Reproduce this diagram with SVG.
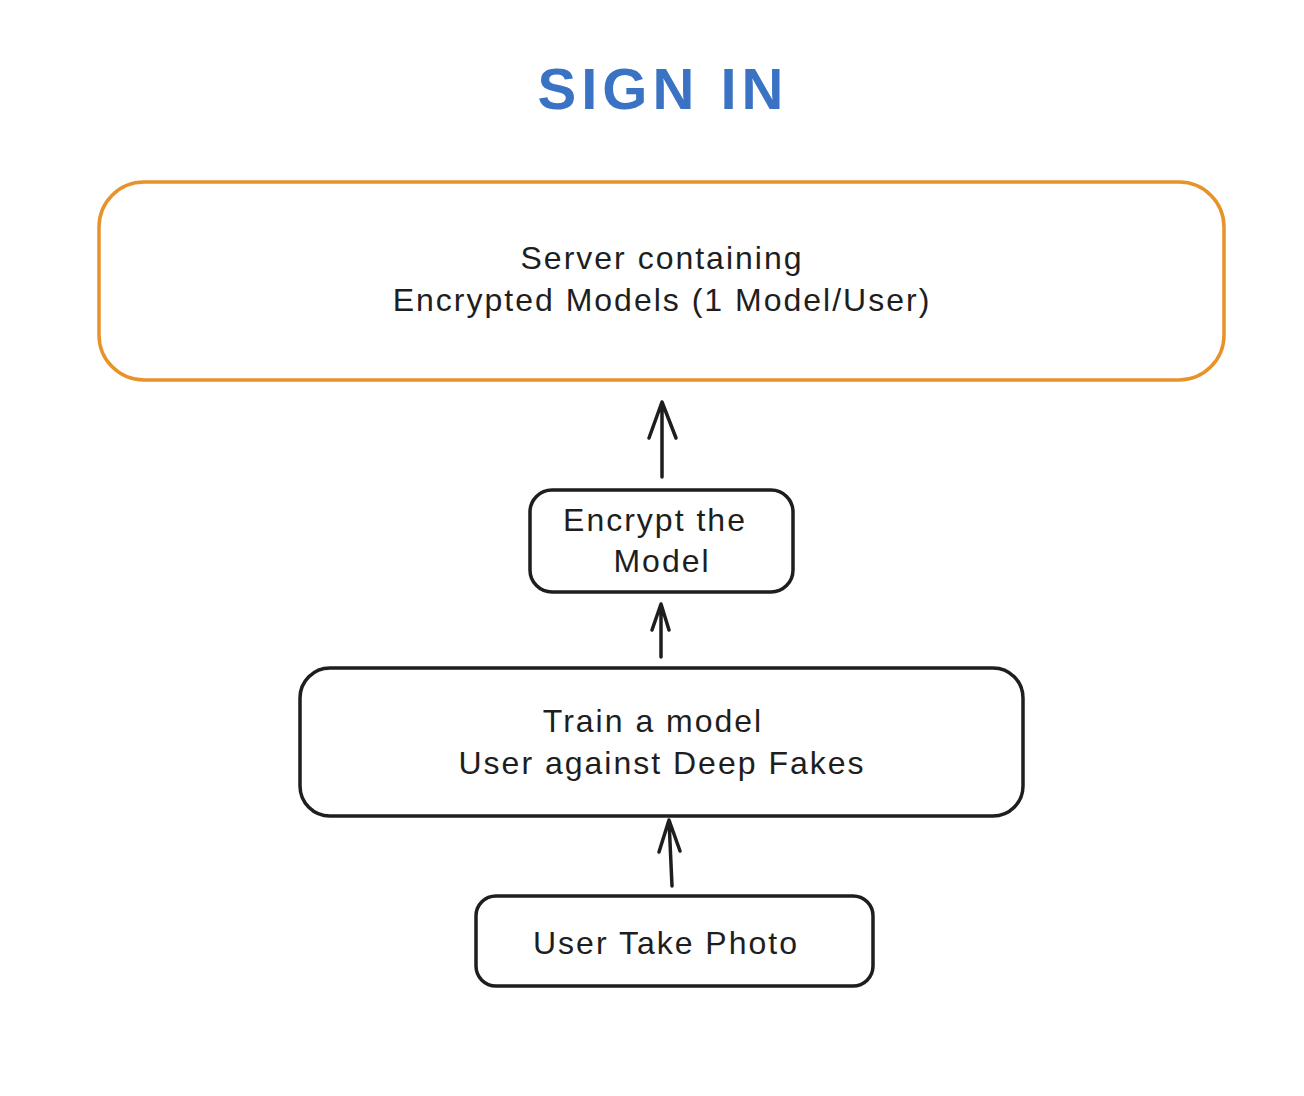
<svg xmlns="http://www.w3.org/2000/svg" width="1304" height="1096" viewBox="0 0 1304 1096">
<style>
.box{fill:none;stroke:#1e1e1e;stroke-width:3.5;}
.orange{fill:none;stroke:#e8922a;stroke-width:3.5;}
.lbl{font-family:"Liberation Sans",Arial,sans-serif;font-size:32px;letter-spacing:2px;fill:#1e1e1e;text-anchor:middle;}
.title{font-family:"Liberation Sans",Arial,sans-serif;font-size:58px;font-weight:bold;letter-spacing:5px;fill:#3a72c4;text-anchor:middle;}
.conn{fill:none;stroke:#1e1e1e;stroke-width:3.5;stroke-linecap:round;stroke-linejoin:round;}
</style>
<rect width="1304" height="1096" fill="#ffffff"/>
<text class="title" x="663" y="109">SIGN IN</text>
<g id="server">
<rect class="orange" x="99" y="182" width="1125" height="198" rx="45"/>
<text class="lbl" x="662" y="269">Server containing</text>
<text class="lbl" x="662" y="311">Encrypted Models (1 Model/User)</text>
</g>
<g id="encrypt">
<rect class="box" x="530" y="490" width="263" height="102" rx="22"/>
<text class="lbl" x="655" y="531">Encrypt the</text>
<text class="lbl" x="662" y="572">Model</text>
</g>
<g id="train">
<rect class="box" x="300" y="668" width="723" height="148" rx="30"/>
<text class="lbl" x="653" y="732">Train a model</text>
<text class="lbl" x="662" y="774">User against Deep Fakes</text>
</g>
<g id="photo">
<rect class="box" x="476" y="896" width="397" height="90" rx="20"/>
<text class="lbl" x="666" y="954">User Take Photo</text>
</g>
<g id="connectors">
<path class="conn" d="M662 477 L662 402 M649 438 L662 402 L676 438"/>
<path class="conn" d="M661 657 L661 604 M652 630 L661 604 L669 630"/>
<path class="conn" d="M672 886 L669 820 M659 852 L669 820 L680 851"/>
</g>
</svg>
